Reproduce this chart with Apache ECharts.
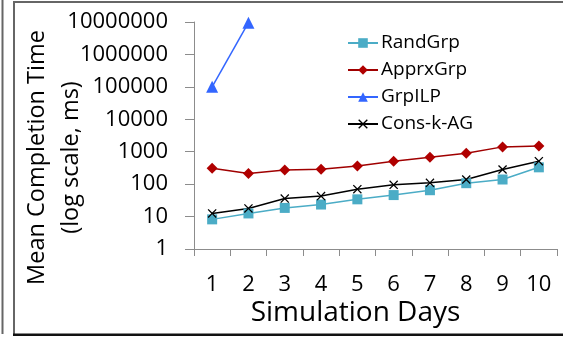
<!DOCTYPE html>
<html>
<head>
<meta charset="utf-8">
<script src="https://cdn.jsdelivr.net/npm/echarts@6/dist/echarts.min.js"></script>
<style>html,body{margin:0;padding:0;background:#fff;overflow:hidden;}#c{width:563px;height:339px;}</style>
</head>
<body>
<div id="c"></div>
<script>
const days = ['1','2','3','4','5','6','7','8','9','10'];
const randGrp = [8.2, 12.5, 18.5, 23.5, 34, 46, 65, 107, 139, 330];
const apprxGrp = [310, 214, 275, 290, 365, 510, 675, 895, 1410, 1510];
const grpILP = [100000, 9500000, null, null, null, null, null, null, null, null];
const consKAG = [12.5, 17.8, 36, 43, 70, 95, 110, 139, 283, 510];

const FONT = '"Open Sans", "Liberation Sans", sans-serif';
const xSym = 'path://M0,1 L1,0 L5,4 L9,0 L10,1 L6,5 L10,9 L9,10 L5,6 L1,10 L0,9 L4,5 Z';

const chart = echarts.init(document.getElementById('c'), null, {renderer: 'canvas'});
chart.setOption({
  animation: false,
  backgroundColor: '#fff',
  textStyle: {fontFamily: FONT},
  grid: {left: 194, right: 6, top: 22, bottom: 90, containLabel: false, outerBoundsMode: 'none'},
  legend: {
    orient: 'vertical', left: 342, top: 28,
    itemWidth: 30, itemHeight: 12, itemGap: 7,
    textStyle: {fontSize: 19, color: '#000', fontFamily: FONT, lineHeight: 20, padding: [0,0,0,-2]},
    data: ['RandGrp', 'ApprxGrp', 'GrpILP', 'Cons-k-AG']
  },
  xAxis: {
    type: 'category', data: days, boundaryGap: true,
    name: 'Simulation Days', nameLocation: 'middle', nameGap: 50, nameMoveOverlap: false,
    nameTextStyle: {fontSize: 28, color: '#000', fontFamily: FONT, padding: [0, 40, 0, 0]},
    axisLine: {lineStyle: {color: '#8c8c8c', width: 1}},
    axisTick: {show: true, length: 7, lineStyle: {color: '#8c8c8c'}},
    axisLabel: {fontSize: 22, color: '#000', margin: 25, fontFamily: FONT},
    splitLine: {show: false}
  },
  yAxis: {
    type: 'log', logBase: 10, min: 1, max: 10000000,
    name: 'Mean Completion Time\n(log scale, ms)', nameLocation: 'middle', nameGap: 106, nameRotate: 90,
    nameMoveOverlap: false,
    nameTextStyle: {fontSize: 23.5, color: '#000', fontFamily: FONT, lineHeight: 34, padding: [0, 44, 0, 0]},
    axisLine: {show: true, lineStyle: {color: '#8c8c8c', width: 1}},
    axisTick: {show: true, length: 9, lineStyle: {color: '#8c8c8c'}},
    axisLabel: {fontSize: 22, color: '#000', margin: 26, fontFamily: FONT,
      formatter: v => String(Math.round(v))},
    splitLine: {show: false}
  },
  series: [
    {name: 'RandGrp', type: 'line', data: randGrp, symbol: 'rect', symbolSize: 10,
     lineStyle: {color: '#4bacc6', width: 1.5}, itemStyle: {color: '#4bacc6'}},
    {name: 'ApprxGrp', type: 'line', data: apprxGrp, symbol: 'diamond', symbolSize: 11,
     lineStyle: {color: '#a00000', width: 1.5}, itemStyle: {color: '#b00000'}},
    {name: 'GrpILP', type: 'line', data: grpILP, symbol: 'triangle', symbolSize: 12,
     lineStyle: {color: '#3366ff', width: 1.5}, itemStyle: {color: '#3366ff'}},
    {name: 'Cons-k-AG', type: 'line', data: consKAG, symbol: xSym, symbolSize: 9,
     lineStyle: {color: '#000', width: 1.5}, itemStyle: {color: '#000'}}
  ],
  graphic: [
    {type: 'rect', shape: {x: 1.5, y: 0, width: 2, height: 334}, style: {fill: '#666'}, silent: true, z: 100},
    {type: 'rect', shape: {x: 13, y: 1, width: 560, height: 2}, style: {fill: '#666'}, silent: true, z: 100},
    {type: 'rect', shape: {x: 13, y: 1, width: 2, height: 335}, style: {fill: '#666'}, silent: true, z: 100},
    {type: 'rect', shape: {x: 13, y: 333.5, width: 560, height: 2.5}, style: {fill: '#111'}, silent: true, z: 100}
  ]
});
</script>
</body>
</html>
